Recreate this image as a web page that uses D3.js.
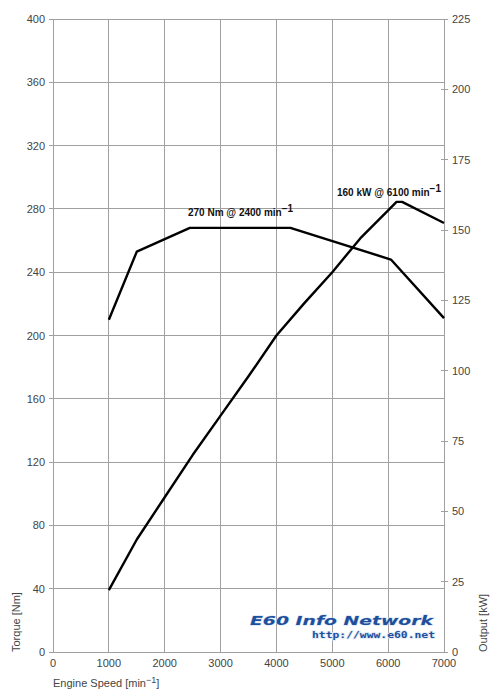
<!DOCTYPE html>
<html><head><meta charset="utf-8">
<script src="https://cdn.jsdelivr.net/npm/d3@7"></script>
<style>
html,body{margin:0;padding:0;background:#fff;}
svg{display:block;font-family:"Liberation Sans",Arial,sans-serif;}
</style></head>
<body>
<svg id="c" width="500" height="700"></svg>
<script>
// Data
const torqueRpm = [1000, 1500, 2450, 4250, 6050, 7000];
const torqueNm  = [210, 253, 268, 268, 248, 211];
const powerRpm  = [1000, 1500, 2000, 2500, 3000, 3500, 4000, 4500, 5000, 5500, 6000, 6150, 6250, 7000];
const powerKw   = [22, 40, 55, 70, 84, 98, 112.5, 124, 135, 147, 157, 160, 160, 152.5];
const xTicks = [0, 1000, 2000, 3000, 4000, 5000, 6000, 7000];
const leftTicks = [0, 40, 80, 120, 160, 200, 240, 280, 320, 360, 400];
const rightTicks = [0, 25, 50, 75, 100, 125, 150, 175, 200, 225];

const svg = d3.select("#c");
const L = 53, R = 444, T = 19, B = 652;
const x = d3.scaleLinear().domain([0, 7000]).range([L, R]);
const yT = d3.scaleLinear().domain([0, 400]).range([B, T]);
const yP = d3.scaleLinear().domain([0, 225]).range([B, T]);
const grid = "#a0a0a0", txt = "#444";

// horizontal grid (left ticks)
svg.append("g").selectAll("line").data(leftTicks).join("line")
  .attr("x1", L - 4).attr("x2", R).attr("y1", d => yT(d)).attr("y2", d => yT(d))
  .attr("stroke", grid).attr("stroke-width", 1).attr("shape-rendering", "crispEdges");
// vertical grid
svg.append("g").selectAll("line").data(xTicks).join("line")
  .attr("x1", d => x(d)).attr("x2", d => x(d)).attr("y1", T).attr("y2", B)
  .attr("stroke", grid).attr("stroke-width", 1).attr("shape-rendering", "crispEdges");
// right ticks
svg.append("g").selectAll("line").data(rightTicks).join("line")
  .attr("x1", R - 3).attr("x2", R + 4).attr("y1", d => yP(d)).attr("y2", d => yP(d))
  .attr("stroke", grid).attr("stroke-width", 1).attr("shape-rendering", "crispEdges");

// tick labels
svg.append("g").selectAll("text").data(leftTicks).join("text")
  .attr("x", L - 8).attr("y", d => yT(d) + 4).attr("text-anchor", "end")
  .attr("font-size", 11).attr("fill", txt).text(d => d);
svg.append("g").selectAll("text").data(rightTicks).join("text")
  .attr("x", R + 8).attr("y", d => yP(d) + 4).attr("text-anchor", "start")
  .attr("font-size", 11).attr("fill", txt).text(d => d);
svg.append("g").selectAll("text").data(xTicks).join("text")
  .attr("x", d => x(d)).attr("y", B + 15).attr("text-anchor", "middle")
  .attr("font-size", 11).attr("fill", txt).text(d => d);

// axis titles
svg.append("text").attr("transform", `translate(20,${B}) rotate(-90)`)
  .attr("font-size", 11).attr("fill", txt).text("Torque [Nm]");
svg.append("text").attr("transform", `translate(487,${B}) rotate(-90)`)
  .attr("font-size", 11).attr("fill", txt).text("Output [kW]");
const xt = svg.append("text").attr("x", L).attr("y", B + 35).attr("font-size", 11).attr("fill", txt);
xt.append("tspan").text("Engine Speed [min");
xt.append("tspan").attr("dy", -4).attr("font-size", 9).text("\u22121");
xt.append("tspan").attr("dy", 4).text("]");

// curves
const line = (ys) => d3.line().x(d => x(d[0])).y(d => ys(d[1]));
svg.append("path").datum(torqueRpm.map((r, i) => [r, torqueNm[i]]))
  .attr("d", line(yT)).attr("fill", "none").attr("stroke", "#000").attr("stroke-width", 2.4)
  .attr("stroke-linejoin", "round");
svg.append("path").datum(powerRpm.map((r, i) => [r, powerKw[i]]))
  .attr("d", line(yP)).attr("fill", "none").attr("stroke", "#000").attr("stroke-width", 2.4)
  .attr("stroke-linejoin", "round");

// annotations
function annot(xp, yp, main) {
  const t = svg.append("text").attr("x", xp).attr("y", yp).attr("font-size", 10)
    .attr("font-weight", "bold").attr("fill", "#111");
  t.append("tspan").text(main);
  t.append("tspan").attr("dy", -4).attr("font-size", 10).text("\u22121");
}
annot(188, 216, "270 Nm @ 2400 min");
annot(337, 196, "160 kW @ 6100  min");

// watermark
svg.append("text").attr("x", 250).attr("y", 625).attr("font-family", "DejaVu Sans")
  .attr("font-weight", "bold").attr("font-style", "italic").attr("font-size", 13)
  .attr("fill", "#1d4f9c").attr("stroke", "#cddcf0").attr("stroke-width", 0.8)
  .attr("paint-order", "stroke")
  .attr("textLength", 183).attr("lengthAdjust", "spacingAndGlyphs").text("E60 Info Network");
svg.append("text").attr("x", 312).attr("y", 638).attr("font-family", "DejaVu Sans Mono")
  .attr("font-weight", "bold").attr("font-size", 9)
  .attr("fill", "#1d4f9c").attr("stroke", "#e0eaf7").attr("stroke-width", 1.5)
  .attr("paint-order", "stroke")
  .attr("textLength", 123).attr("lengthAdjust", "spacingAndGlyphs").text("http://www.e60.net");
</script>
</body></html>
